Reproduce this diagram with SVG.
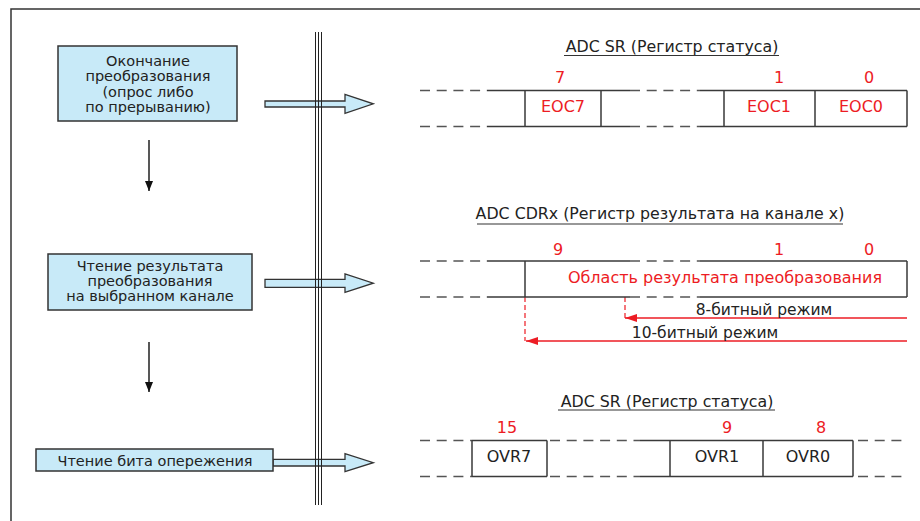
<svg xmlns="http://www.w3.org/2000/svg" width="920" height="521" viewBox="0 0 920 521">
<defs>
<style>
text{font-family:"DejaVu Sans","Liberation Sans",sans-serif;}
.box{fill:#c8eaf8;stroke:#333;stroke-width:1.5;}
.bt{font-size:14.5px;fill:#222;text-anchor:middle;}
.bt2{font-size:14.5px;fill:#222;text-anchor:middle;}
.title{font-size:15.8px;fill:#222;text-anchor:middle;}
.ul{stroke:#333;stroke-width:1.2;}
.num{font-size:16px;fill:#ed1c24;text-anchor:middle;}
.red{font-size:16px;fill:#ed1c24;text-anchor:middle;}
.cell{font-size:16px;fill:#222;text-anchor:middle;}
.solid{stroke:#3a3a3a;stroke-width:1.5;fill:none;}
.dash{stroke:#555;stroke-width:1.5;stroke-dasharray:10 6.7;fill:none;}
.mode{font-size:15.5px;fill:#222;text-anchor:middle;}
.hollow{fill:#c8eaf8;stroke:#333;stroke-width:1.3;stroke-linejoin:miter;}
.rl{stroke:#ed1c24;stroke-width:1.3;fill:none;}
.rd{stroke:#ed1c24;stroke-width:1.2;stroke-dasharray:5 3;fill:none;}
.blk{stroke:#111;stroke-width:1.4;fill:none;}
</style>
<marker id="ah" markerWidth="10" markerHeight="8" refX="10" refY="4" orient="auto" markerUnits="userSpaceOnUse">
<path d="M0,0 L10,4 L0,8 Z" fill="#111"/>
</marker>
<marker id="rah" markerWidth="12" markerHeight="8" refX="12" refY="4" orient="auto" markerUnits="userSpaceOnUse">
<path d="M0,0 L12,4 L0,8 Z" fill="#ed1c24"/>
</marker>
</defs>
<rect width="920" height="521" fill="#fff"/>
<g id="frame">
<path d="M11,521 V9 H920" fill="none" stroke="#333" stroke-width="1.5"/>
</g>

<g id="connectors">
<line class="blk" x1="149" y1="140" x2="149" y2="191" marker-end="url(#ah)"/>
<line class="blk" x1="149" y1="342" x2="149" y2="392" marker-end="url(#ah)"/>
<path class="hollow" d="M265,101 H345 V94.3 L373.3,103.8 L345,113.3 V107 H265 Z"/>
<path class="hollow" d="M265,279.3 H345 V274 L373.3,283.2 L345,292.3 V287.3 H265 Z"/>
<path class="hollow" d="M273,459.3 H345 V453.7 L373.3,462.7 L345,471.7 V466 H273 Z"/>
<line class="rd" x1="525" y1="297" x2="525" y2="341"/>
<line class="rd" x1="625" y1="297" x2="625" y2="318"/>
<line class="rl" x1="907" y1="318" x2="625" y2="318" marker-end="url(#rah)"/>
<line class="rl" x1="907" y1="341" x2="526" y2="341" marker-end="url(#rah)"/>
</g>

<g id="divider" stroke="#222" stroke-width="1">
<line x1="315.5" y1="32" x2="315.5" y2="505"/>
<line x1="318.5" y1="32" x2="318.5" y2="505"/>
<line x1="321.5" y1="32" x2="321.5" y2="505"/>
</g>

<g id="box1">
<rect class="box" x="58" y="46" width="179" height="75"/>
<text class="bt" x="148" y="66">Окончание</text>
<text class="bt" x="148" y="81">преобразования</text>
<text class="bt" x="148" y="96.5">(опрос либо</text>
<text class="bt" x="148" y="111.5">по прерыванию)</text>
</g>

<g id="box2">
<rect class="box" x="48" y="254" width="204" height="56"/>
<text class="bt2" x="150" y="271">Чтение результата</text>
<text class="bt2" x="150" y="286">преобразования</text>
<text class="bt2" x="150" y="301">на выбранном канале</text>
</g>

<g id="box3">
<rect class="box" x="36" y="449" width="237" height="22"/>
<text class="bt2" x="155" y="465.5">Чтение бита опережения</text>
</g>

<g id="reg1">
<text class="title" x="672" y="52">ADC SR (Регистр статуса)</text>
<line class="ul" x1="564" y1="55.5" x2="779" y2="55.5"/>
<text class="num" x="560" y="83">7</text>
<text class="num" x="779" y="83">1</text>
<text class="num" x="869" y="83">0</text>
<path class="dash" d="M420,90.5 H487 M630,90.5 H700 M420,126.5 H487 M630,126.5 H700"/>
<path class="solid" d="M487,90.5 H630 M700,90.5 H907 M487,126.5 H630 M700,126.5 H907 M525,90.5 V126.5 M601,90.5 V126.5 M724,90.5 V126.5 M815,90.5 V126.5 M907,90.5 V126.5"/>
<text class="red" x="563" y="112">EOC7</text>
<text class="red" x="769" y="112">EOC1</text>
<text class="red" x="861" y="112">EOC0</text>
</g>

<g id="reg2">
<text class="title" x="660" y="219">ADC CDRx (Регистр результата на канале x)</text>
<line class="ul" x1="477" y1="224" x2="843" y2="224"/>
<text class="num" x="558" y="255">9</text>
<text class="num" x="779" y="255">1</text>
<text class="num" x="869" y="255">0</text>
<path class="dash" d="M420,261 H487 M630,261 H700 M420,297 H487 M630,297 H700"/>
<path class="solid" d="M487,261 H630 M700,261 H907 M487,297 H630 M700,297 H907 M525,261 V297 M907,261 V297"/>
<text class="red" x="725" y="283">Область результата преобразования</text>
<text class="mode" x="764" y="315">8-битный режим</text>
<text class="mode" x="705" y="338">10-битный режим</text>
</g>

<g id="reg3">
<text class="title" x="667" y="407">ADC SR (Регистр статуса)</text>
<line class="ul" x1="558" y1="410" x2="775" y2="410"/>
<text class="num" x="507" y="433">15</text>
<text class="num" x="727" y="433">9</text>
<text class="num" x="821" y="433">8</text>
<path class="dash" d="M420,440.5 H472 M550,440.5 H640 M858,440.5 H907 M420,476.5 H472 M550,476.5 H640 M858,476.5 H907"/>
<path class="solid" d="M472,440.5 H547 M640,440.5 H853 M472,476.5 H547 M640,476.5 H853 M472,440.5 V476.5 M547,440.5 V476.5 M670,440.5 V476.5 M763,440.5 V476.5 M853,440.5 V476.5" stroke="#555"/>
<text class="cell" x="509" y="462">OVR7</text>
<text class="cell" x="717" y="462">OVR1</text>
<text class="cell" x="808" y="462">OVR0</text>
</g>
</svg>
